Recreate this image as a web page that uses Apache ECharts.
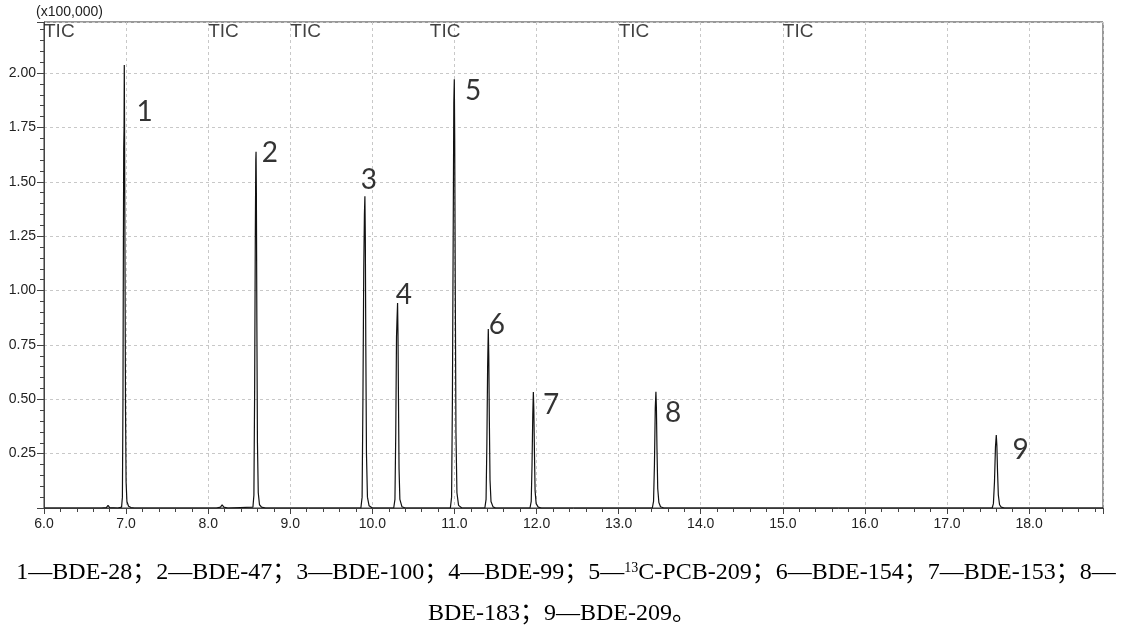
<!DOCTYPE html>
<html>
<head>
<meta charset="utf-8">
<title>TIC</title>
<script src="https://cdn.jsdelivr.net/npm/echarts@6/dist/echarts.min.js"></script>
<style>
  html, body { margin: 0; padding: 0; background: #fff; }
  #chart { width: 1121px; height: 628px; }
</style>
</head>
<body>
<div id="chart"></div>
<script>
// retention time (min) and intensity (x100,000)
var retentionTime = [
  6.00, 6.70, 6.76, 6.78, 6.80, 6.90,
  6.945, 6.955, 6.962, 6.967, 6.971, 6.975, 6.978, 6.982, 6.987, 6.993, 7.000, 7.010, 7.030, 7.060, 7.100,
  8.10, 8.15, 8.17, 8.19, 8.24,
  8.545, 8.557, 8.566, 8.574, 8.580, 8.583, 8.587, 8.593, 8.600, 8.610, 8.625, 8.650, 8.700,
  9.860, 9.875, 9.885, 9.895, 9.903, 9.909, 9.914, 9.920, 9.928, 9.940, 9.960, 10.000,
  10.260, 10.275, 10.285, 10.294, 10.300, 10.307, 10.312, 10.318, 10.325, 10.335, 10.360, 10.400,
  10.950, 10.965, 10.975, 10.985, 10.992, 10.998, 11.003, 11.010, 11.018, 11.030, 11.050, 11.090,
  11.370, 11.385, 11.395, 11.404, 11.412, 11.418, 11.425, 11.433, 11.445, 11.470, 11.500,
  11.920, 11.935, 11.945, 11.954, 11.961, 11.967, 11.974, 11.982, 11.995, 12.020, 12.060,
  13.410, 13.425, 13.436, 13.446, 13.454, 13.460, 13.467, 13.476, 13.490, 13.510, 13.550,
  17.550, 17.565, 17.578, 17.590, 17.600, 17.607, 17.615, 17.625, 17.640, 17.660, 17.700,
  18.90
];
var intensity = [
  0, 0, 0.002, 0.012, 0.002, 0,
  0.004, 0.05, 0.5, 1.2, 1.655, 1.743, 2.037, 1.70, 1.10, 0.45, 0.12, 0.03, 0.008, 0.002, 0,
  0, 0.004, 0.015, 0.004, 0,
  0.004, 0.06, 0.55, 1.25, 1.60, 1.638, 1.45, 0.85, 0.30, 0.07, 0.015, 0.004, 0,
  0, 0.05, 0.5, 1.1, 1.35, 1.434, 1.25, 0.75, 0.25, 0.05, 0.01, 0,
  0, 0.04, 0.35, 0.786, 0.864, 0.943, 0.80, 0.50, 0.18, 0.04, 0.006, 0,
  0, 0.05, 0.5, 1.3, 1.862, 1.972, 1.70, 1.0, 0.35, 0.07, 0.012, 0,
  0, 0.04, 0.3, 0.65, 0.823, 0.70, 0.40, 0.13, 0.03, 0.005, 0,
  0, 0.03, 0.2, 0.43, 0.533, 0.45, 0.26, 0.08, 0.02, 0.004, 0,
  0, 0.03, 0.2, 0.46, 0.535, 0.46, 0.27, 0.09, 0.025, 0.006, 0,
  0, 0.02, 0.12, 0.28, 0.336, 0.29, 0.17, 0.06, 0.015, 0.004, 0,
  0
];

// peak numbers and where they are written
var peakNames = ['1', '2', '3', '4', '5', '6', '7', '8', '9'];
var peakLabelX = [7.226, 8.750, 9.957, 10.384, 11.226, 11.518, 12.177, 13.664, 17.896];
var peakLabelY = [1.821, 1.632, 1.508, 0.979, 1.917, 0.841, 0.474, 0.437, 0.267];

// TIC segment markers along the top
var ticStart = [6.0, 8.0, 9.0, 10.7, 13.0, 15.0];

var xMin = 6.0, xMax = 18.9, xStep = 1.0;
var yMin = 0, yMax = 2.235, yStep = 0.25;

var captionLines = [
  '1—BDE-28；2—BDE-47；3—BDE-100；4—BDE-99；5—{sup|13}C-PCB-209；6—BDE-154；7—BDE-153；8—',
  'BDE-183；9—BDE-209。'
];

var chart = echarts.init(document.getElementById('chart'));

var trace = retentionTime.map(function (t, i) { return [t, intensity[i]]; });
var labelPoints = peakNames.map(function (n, i) { return { name: n, value: [peakLabelX[i], peakLabelY[i]] }; });
var ticPoints = ticStart.map(function (t) { return [t, yMax]; });

var sans = '"Liberation Sans", Arial, sans-serif';
var serif = '"Liberation Serif", "Noto Sans CJK SC", serif';

var option = {
  animation: false,
  backgroundColor: '#fff',
  grid: {
    left: 44, right: 18, top: 22, bottom: 120,
    show: true, borderColor: '#333', borderWidth: 1
  },
  xAxis: {
    type: 'value',
    min: xMin, max: xMax, interval: xStep,
    axisLine: { lineStyle: { color: '#444', width: 1 } },
    axisTick: { length: 6, lineStyle: { color: '#444' } },
    minorTick: { show: true, splitNumber: 5, length: 4, lineStyle: { color: '#444' } },
    splitLine: { show: true, lineStyle: { color: '#c8c8c8', type: [3, 3] } },
    axisLabel: {
      margin: 9,
      color: '#222',
      fontSize: 14,
      fontFamily: sans,
      formatter: function (v) {
        var r = Math.round(v * 1000) / 1000;
        return Number.isInteger(r) ? r.toFixed(1) : '';
      }
    }
  },
  yAxis: {
    type: 'value',
    min: yMin, max: yMax, interval: yStep,
    name: '(x100,000)',
    nameLocation: 'end',
    nameGap: 3,
    nameTextStyle: {
      color: '#222', fontSize: 14, align: 'left', padding: [0, 0, 0, -8],
      fontFamily: sans
    },
    axisLine: { show: true, lineStyle: { color: '#444', width: 1 } },
    axisTick: { show: true, length: 7, lineStyle: { color: '#444' } },
    minorTick: { show: true, splitNumber: 5, length: 4, lineStyle: { color: '#444' } },
    splitLine: { show: true, lineStyle: { color: '#c8c8c8', type: [3, 3] } },
    axisLabel: {
      margin: 8,
      color: '#222',
      fontSize: 14,
      fontFamily: sans,
      formatter: function (v) {
        var q = v / yStep;
        if (v <= 0 || Math.abs(q - Math.round(q)) > 1e-6) return '';
        return v.toFixed(2);
      }
    }
  },
  series: [
    {
      name: 'TIC',
      type: 'line',
      data: trace,
      showSymbol: false,
      symbol: 'none',
      clip: true,
      lineStyle: { color: '#111', width: 1.2 },
      z: 3
    },
    {
      name: 'peaks',
      type: 'scatter',
      data: labelPoints,
      symbolSize: 0,
      silent: true,
      label: {
        show: true,
        position: 'inside',
        formatter: '{b}',
        color: '#000',
        fontSize: 28,
        fontFamily: 'Lato, "Open Sans", sans-serif'
      },
      z: 4
    },
    {
      name: 'segments',
      type: 'scatter',
      data: ticPoints,
      symbolSize: 0,
      silent: true,
      label: {
        show: true,
        position: 'bottom',
        distance: 0,
        align: 'left',
        formatter: 'TIC',
        color: '#111',
        fontSize: 19,
        fontFamily: sans
      },
      z: 4
    }
  ],
  graphic: [
    {
      type: 'text',
      x: 566, y: 573,
      style: {
        text: captionLines[0],
        fill: '#000',
        fontSize: 24,
        fontFamily: serif,
        align: 'center', verticalAlign: 'middle',
        textAlign: 'center', textVerticalAlign: 'middle',
        rich: {
          sup: { fontSize: 14, fontFamily: serif, fill: '#000', verticalAlign: 'top', padding: [0, 0, 8, 0] }
        }
      }
    },
    {
      type: 'text',
      x: 562, y: 614,
      style: {
        text: captionLines[1],
        fill: '#000',
        fontSize: 24,
        fontFamily: serif,
        align: 'center', verticalAlign: 'middle',
        textAlign: 'center', textVerticalAlign: 'middle'
      }
    }
  ]
};

chart.setOption(option, true);
</script>
</body>
</html>
